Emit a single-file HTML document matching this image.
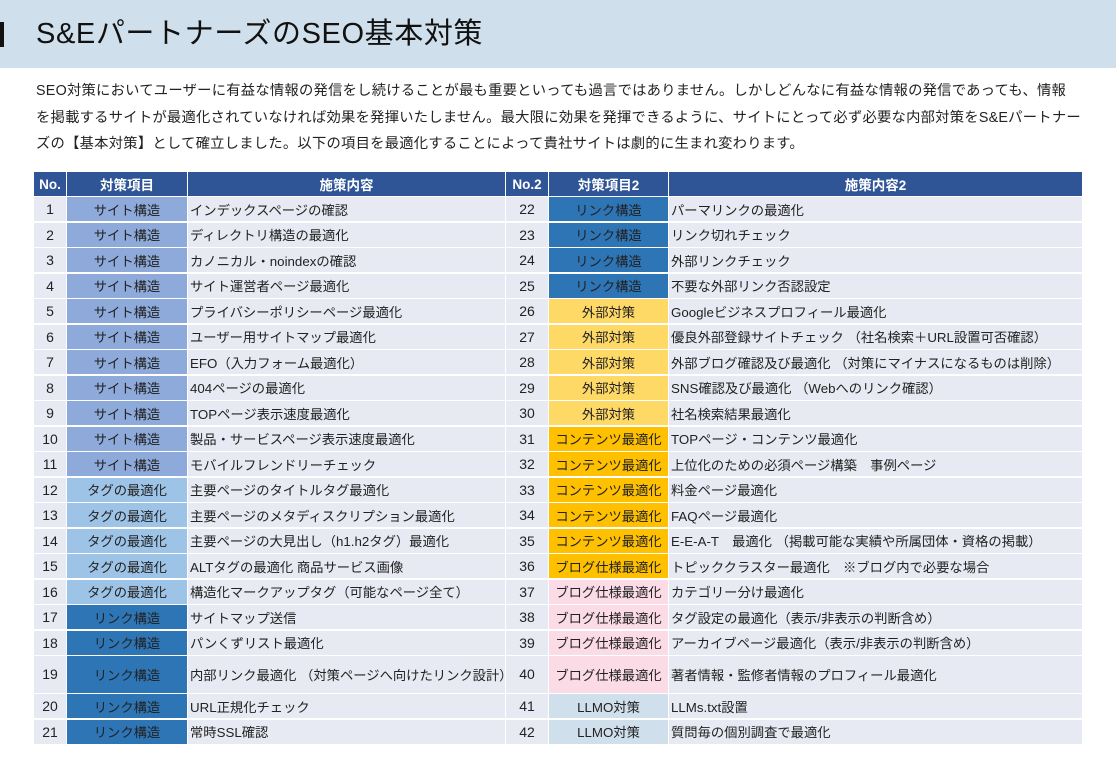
<!DOCTYPE html>
<html><head><meta charset="utf-8">
<style>
body{margin:0;width:1116px;height:761px;background:#fff;position:relative;overflow:hidden;font-family:"Liberation Sans","Noto Sans CJK JP",sans-serif;color:#222}
#band{position:absolute;left:0;top:0;width:1116px;height:68px;background:#cfdfec}
#mark{position:absolute;left:0;top:22px;width:4px;height:25px;background:#111}
#title{position:absolute;left:36px;top:12px;font-size:29px;line-height:44px;color:#111;letter-spacing:0.6px}
#intro{position:absolute;left:36px;top:78px;width:1080px;font-size:14.3px;line-height:26.5px;color:#222;letter-spacing:0.25px;white-space:nowrap}
.c{position:absolute;box-sizing:border-box;font-size:13.3px;display:flex;align-items:center;white-space:nowrap;overflow:hidden}
.h{background:#2f5597;color:#fff;font-weight:bold;justify-content:center;font-size:13.5px}
.n{background:#e8eaf3;justify-content:center;font-size:14px}
.t{justify-content:center}
.d{background:#e8eaf3;padding-left:2px}
</style></head><body>
<div id="band"></div>
<div id="mark"></div>
<div id="title">S&amp;EパートナーズのSEO基本対策</div>
<div id="intro">SEO対策においてユーザーに有益な情報の発信をし続けることが最も重要といっても過言ではありません。しかしどんなに有益な情報の発信であっても、情報<br>を掲載するサイトが最適化されていなければ効果を発揮いたしません。最大限に効果を発揮できるように、サイトにとって必ず必要な内部対策をS&amp;Eパートナー<br>ズの【基本対策】として確立しました。以下の項目を最適化することによって貴社サイトは劇的に生まれ変わります。</div>
<div id="tbl"></div>
<script>
const headers=['No.','対策項目','施策内容','No.2','対策項目2','施策内容2'];
const cats1=['サイト構造','サイト構造','サイト構造','サイト構造','サイト構造','サイト構造','サイト構造','サイト構造','サイト構造','サイト構造','サイト構造','タグの最適化','タグの最適化','タグの最適化','タグの最適化','タグの最適化','リンク構造','リンク構造','リンク構造','リンク構造','リンク構造'];
const items1=['インデックスページの確認','ディレクトリ構造の最適化','カノニカル・noindexの確認','サイト運営者ページ最適化','プライバシーポリシーページ最適化','ユーザー用サイトマップ最適化','EFO（入力フォーム最適化）','404ページの最適化','TOPページ表示速度最適化','製品・サービスページ表示速度最適化','モバイルフレンドリーチェック','主要ページのタイトルタグ最適化','主要ページのメタディスクリプション最適化','主要ページの大見出し（h1.h2タグ）最適化','ALTタグの最適化 商品サービス画像','構造化マークアップタグ（可能なページ全て）','サイトマップ送信','パンくずリスト最適化','内部リンク最適化 （対策ページへ向けたリンク設計）','URL正規化チェック','常時SSL確認'];
const cats2=['リンク構造','リンク構造','リンク構造','リンク構造','外部対策','外部対策','外部対策','外部対策','外部対策','コンテンツ最適化','コンテンツ最適化','コンテンツ最適化','コンテンツ最適化','コンテンツ最適化','ブログ仕様最適化*','ブログ仕様最適化','ブログ仕様最適化','ブログ仕様最適化','ブログ仕様最適化','LLMO対策','LLMO対策'];
const items2=['パーマリンクの最適化','リンク切れチェック','外部リンクチェック','不要な外部リンク否認設定','Googleビジネスプロフィール最適化','優良外部登録サイトチェック （社名検索＋URL設置可否確認）','外部ブログ確認及び最適化 （対策にマイナスになるものは削除）','SNS確認及び最適化 （Webへのリンク確認）','社名検索結果最適化','TOPページ・コンテンツ最適化','上位化のための必須ページ構築　事例ページ','料金ページ最適化','FAQページ最適化','E-E-A-T　最適化 （掲載可能な実績や所属団体・資格の掲載）','トピッククラスター最適化　※ブログ内で必要な場合','カテゴリー分け最適化','タグ設定の最適化（表示/非表示の判断含め）','アーカイブページ最適化（表示/非表示の判断含め）','著者情報・監修者情報のプロフィール最適化','LLMs.txt設置','質問毎の個別調査で最適化'];
const colors={'サイト構造':'#8eaadb','タグの最適化':'#9dc3e6','リンク構造':'#2e75b6','外部対策':'#ffd966','コンテンツ最適化':'#ffc000','ブログ仕様最適化*':'#ffc000','ブログ仕様最適化':'#fadbe6','LLMO対策':'#d0dfec'};
const cols=[[34,32],[67,120],[188,317],[506,42],[549,119],[669,413]];
const tbl=document.getElementById('tbl');
function cell(x,y,w,h,txt,cls,bg){
  const d=document.createElement('div');
  d.className='c '+cls;
  d.style.left=x+'px';d.style.top=y+'px';d.style.width=w+'px';d.style.height=h+'px';
  if(bg)d.style.background=bg;
  d.textContent=txt;
  tbl.appendChild(d);return d;
}
headers.forEach((t,i)=>{
  const d=cell(cols[i][0],172,cols[i][1],24,t,'h');
  
  
});
let y=197;
for(let r=0;r<21;r++){
  const h=(r===18)?38:25.5;
  const hh=h-1.5;
  const vals=[String(r+1),cats1[r],items1[r],String(r+22),cats2[r].replace('*',''),items2[r]];
  const cls=['n','t','d','n','t','d'];
  vals.forEach((v,i)=>{
    let bg=null;
    if(i===1)bg=colors[cats1[r]];
    if(i===4)bg=colors[cats2[r]];
    const d=cell(cols[i][0],y,cols[i][1],hh,v,cls[i],bg);
    
    
  });
  y+=h;
}
</script>
</body></html>
